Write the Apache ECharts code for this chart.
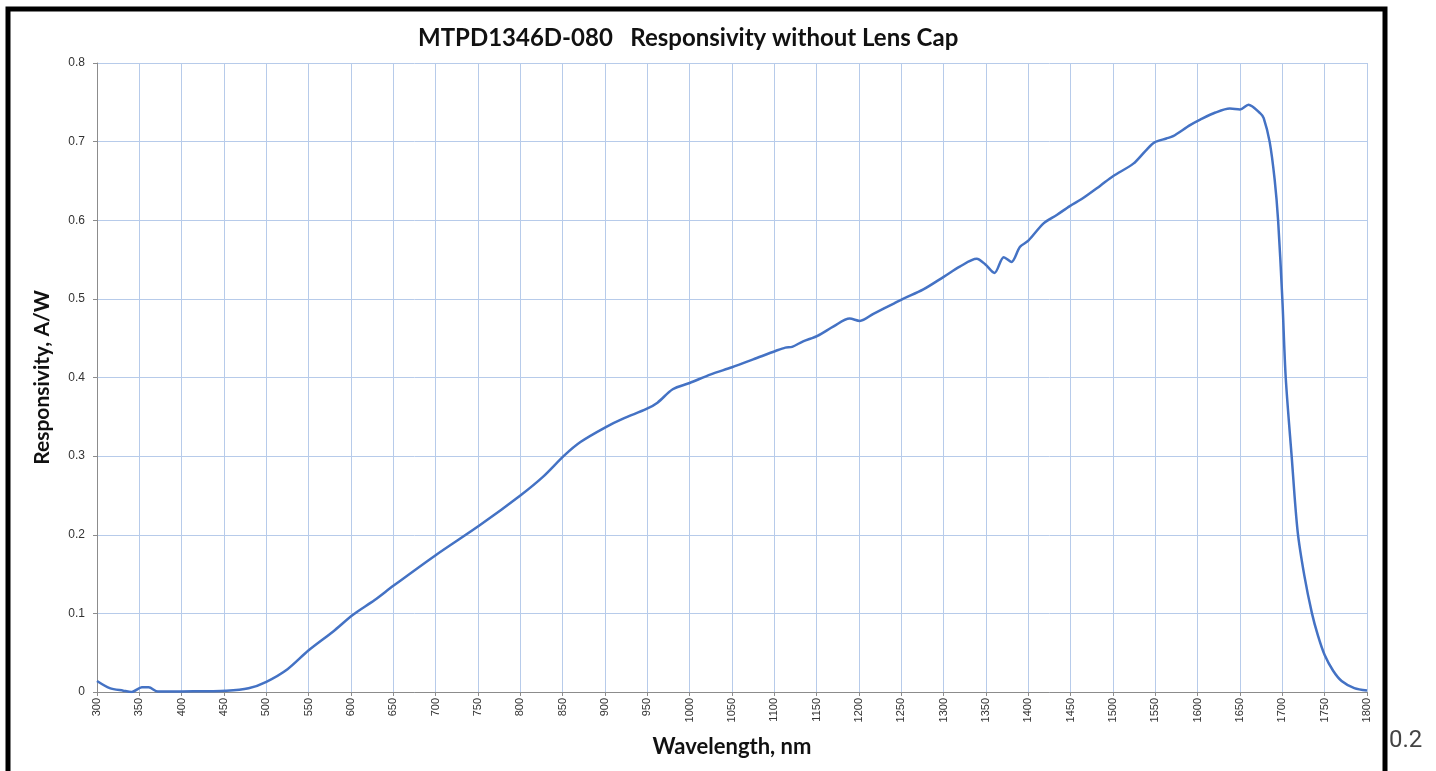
<!DOCTYPE html>
<html>
<head>
<meta charset="utf-8">
<script src="https://cdn.jsdelivr.net/npm/echarts@6/dist/echarts.min.js"></script>
<style>
  html, body { margin: 0; padding: 0; background: #fff; }
  #chart { width: 1436px; height: 771px; }
</style>
</head>
<body>
<div id="chart"></div>
<script>
// wavelength (nm) and responsivity (A/W)
const wavelengths = [300, 315, 331, 341, 353, 361, 372, 400, 453, 479, 500, 525, 550, 579, 602, 628, 650, 700, 752, 800,
  827, 852, 871, 901, 922, 949, 962, 980, 1000, 1025, 1050, 1075, 1102, 1113, 1121, 1134, 1151, 1170, 1189, 1201,
  1217, 1241, 1252, 1276, 1300, 1319, 1339, 1349, 1360, 1371, 1380, 1390, 1400, 1418, 1434, 1449, 1463, 1485, 1500, 1524,
  1539, 1549, 1563, 1571, 1591, 1603, 1621, 1638, 1650, 1660, 1674, 1678, 1685, 1691, 1695, 1700, 1704, 1711, 1718,
  1726, 1735, 1742, 1750, 1760, 1770, 1785, 1800];
const responsivity = [0.014, 0.005, 0.0017, 0.0, 0.006, 0.006, 0.0005, 0.0007, 0.0017, 0.0047, 0.013, 0.029, 0.053, 0.077, 0.098, 0.117, 0.135, 0.174, 0.212, 0.250,
  0.274, 0.301, 0.318, 0.337, 0.348, 0.360, 0.368, 0.385, 0.393, 0.404, 0.413, 0.423, 0.434, 0.438, 0.439, 0.446, 0.453, 0.465, 0.475, 0.472,
  0.481, 0.494, 0.500, 0.512, 0.528, 0.541, 0.551, 0.544, 0.533, 0.553, 0.547, 0.566, 0.574, 0.596, 0.607, 0.618, 0.627, 0.644, 0.656, 0.672,
  0.689, 0.699, 0.704, 0.707, 0.721, 0.728, 0.737, 0.742, 0.741, 0.747, 0.736, 0.730, 0.700, 0.651, 0.600, 0.500, 0.400, 0.300, 0.205,
  0.148, 0.100, 0.072, 0.047, 0.027, 0.014, 0.005, 0.002];

const chart = echarts.init(document.getElementById('chart'), null, { renderer: 'canvas' });

const gridColor = '#B7CBEA';
const points = wavelengths.map((w, i) => [w, responsivity[i]]);

const option = {
  backgroundColor: '#fff',
  animation: false,
  title: {
    text: 'MTPD1346D-080   Responsivity without Lens Cap',
    left: 413,
    top: 21,
    textStyle: { fontFamily: 'Lato', fontWeight: 'bold', fontSize: 24, color: '#111' }
  },
  grid: { left: 97, right: 69, top: 63, bottom: 79, containLabel: false },
  xAxis: {
    type: 'value',
    min: 300,
    max: 1800,
    interval: 50,
    name: 'Wavelength, nm',
    nameLocation: 'middle',
    nameGap: 44,
    nameTextStyle: { fontFamily: 'Lato', fontWeight: 'bold', fontSize: 22, color: '#111' },
    axisLine: { show: true, onZero: false, lineStyle: { color: '#8c8c8c', width: 1 } },
    axisTick: { show: true, length: 4, lineStyle: { color: '#8c8c8c' } },
    axisLabel: {
      rotate: 90,
      margin: 6,
      fontFamily: 'Liberation Sans',
      fontSize: 11,
      color: '#333',
      formatter: v => String(v)
    },
    splitLine: { show: true, lineStyle: { color: gridColor, width: 1 } }
  },
  yAxis: {
    type: 'value',
    min: 0,
    max: 0.8,
    interval: 0.1,
    name: 'Responsivity, A/W',
    nameLocation: 'middle',
    nameGap: 44,
    nameTextStyle: { fontFamily: 'Lato', fontWeight: 'bold', fontSize: 21, color: '#111' },
    axisLine: { show: true, lineStyle: { color: '#8c8c8c', width: 1 } },
    axisTick: { show: true, length: 4, lineStyle: { color: '#8c8c8c' } },
    axisLabel: {
      margin: 12,
      fontFamily: 'Liberation Sans',
      fontSize: 12,
      color: '#333',
      formatter: v => String(Math.round(v * 10) / 10)
    },
    splitLine: { show: true, lineStyle: { color: gridColor, width: 1 } }
  },
  series: [
    {
      name: 'Responsivity',
      type: 'line',
      data: points,
      smooth: 0.3,
      showSymbol: false,
      lineStyle: { color: '#4472C4', width: 2.5 }
    }
  ],
  graphic: [
    {
      type: 'rect',
      shape: { x: 8, y: 9, width: 1377, height: 800 },
      style: { fill: 'none', stroke: '#000', lineWidth: 5 },
      silent: true
    },
    {
      type: 'text',
      left: 1389,
      top: 729,
      style: { text: '0.2', font: '24px Roboto', fill: '#444' }
    }
  ]
};

chart.setOption(option);
</script>
</body>
</html>
